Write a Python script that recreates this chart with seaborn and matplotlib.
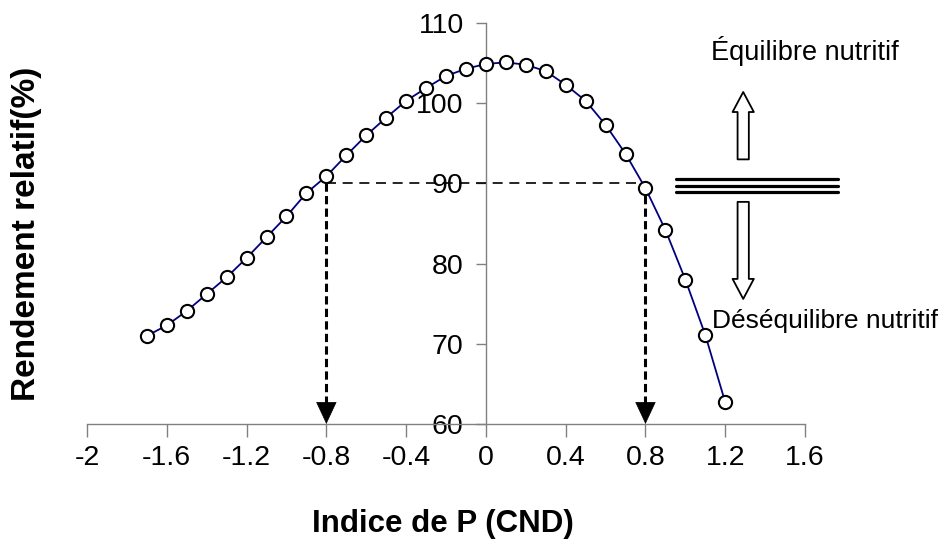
import matplotlib
matplotlib.use("Agg")
import matplotlib.pyplot as plt
import seaborn as sns
import pandas as pd

# indice de P (CND) and rendement relatif (%)
indice_p = [-1.7, -1.6, -1.5, -1.4, -1.3, -1.2, -1.1, -1.0, -0.9, -0.8,
            -0.7, -0.6, -0.5, -0.4, -0.3, -0.2, -0.1, 0.0, 0.1, 0.2,
            0.3, 0.4, 0.5, 0.6, 0.7, 0.8, 0.9, 1.0, 1.1, 1.2]
rendement = [71.0, 72.3, 74.1, 76.2, 78.3, 80.7, 83.3, 85.9, 88.8, 90.9,
             93.5, 96.0, 98.2, 100.3, 101.9, 103.4, 104.3, 104.9, 105.1, 104.8,
             104.0, 102.3, 100.3, 97.3, 93.7, 89.4, 84.2, 78.0, 71.1, 62.7]

x_ticks = [-2, -1.6, -1.2, -0.8, -0.4, 0, 0.4, 0.8, 1.2, 1.6]
x_tick_labels = ["-2", "-1.6", "-1.2", "-0.8", "-0.4", "0", "0.4", "0.8", "1.2", "1.6"]
y_ticks = [60, 70, 80, 90, 100, 110]

seuil = 90
indices_seuil = [-0.8, 0.8]

df = pd.DataFrame({"indice": indice_p, "rendement": rendement})

sns.set_style("white")
plt.rcParams["font.family"] = ["Liberation Sans", "DejaVu Sans"]
plt.rcParams["text.color"] = "black"

fig = plt.figure(figsize=(9.49, 5.46), dpi=100)
ax = fig.add_axes([0.0917, 0.2234, 0.7566, 0.7344])

sns.lineplot(data=df, x="indice", y="rendement", ax=ax, color="#000080",
             lw=1.3, marker="o", markersize=9.5, markerfacecolor="white",
             markeredgecolor="black", markeredgewidth=1.5, zorder=5)

ax.set_xlim(-2, 1.6)
ax.set_ylim(60, 110)

# axes crossing at (0, 60)
ax.spines["left"].set_position(("data", 0))
ax.spines["top"].set_visible(False)
ax.spines["right"].set_visible(False)
for s in ["left", "bottom"]:
    ax.spines[s].set_color("#808080")
    ax.spines[s].set_linewidth(1.0)

ax.set_xticks(x_ticks)
ax.set_xticklabels(x_tick_labels)
ax.set_yticks(y_ticks)
ax.tick_params(axis="x", direction="out", length=9, width=1, color="#808080",
               labelsize=20.5, pad=6, bottom=True, labelcolor="black")
ax.tick_params(axis="y", direction="out", length=7, width=1, color="#808080",
               labelsize=20.5, pad=9, left=True, labelcolor="black")
ax.set_xlabel("")
ax.set_ylabel("")
ax.grid(False)

# seuil de 90 %
ax.plot([indices_seuil[0], indices_seuil[1]], [seuil, seuil], color="black",
        lw=1.2, ls=(0, (6, 4)), zorder=3)
for xs in indices_seuil:
    ax.plot([xs, xs], [seuil, 62.5], color="black", lw=2.2, ls=(0, (2.7, 1.4)), zorder=3)
    ax.annotate("", xy=(xs, 60), xytext=(xs, 63.2),
                arrowprops=dict(arrowstyle="-|>,head_length=1.5,head_width=0.7",
                                color="black", lw=0.5, shrinkA=0, shrinkB=0),
                annotation_clip=False)

# symbole et fleches a droite
for yl in [90.5, 89.7, 88.9]:
    ax.plot([0.953, 1.765], [yl, yl], color="black", lw=2.3, clip_on=False,
            solid_capstyle="round")

fleche = "simple,head_length=0.8,head_width=0.85,tail_width=0.45"
ax.annotate("", xy=(1.29, 101.4), xytext=(1.29, 93.0),
            arrowprops=dict(arrowstyle=fleche, fc="white", ec="black", lw=1.3,
                            shrinkA=0, shrinkB=0, mutation_scale=18),
            annotation_clip=False)
ax.annotate("", xy=(1.29, 75.6), xytext=(1.29, 87.7),
            arrowprops=dict(arrowstyle=fleche, fc="white", ec="black", lw=1.3,
                            shrinkA=0, shrinkB=0, mutation_scale=18),
            annotation_clip=False)

ax.text(1.128, 105.4, "Équilibre nutritif", fontsize=19.5, ha="left",
        va="baseline", clip_on=False)
ax.text(1.135, 72.0, "Déséquilibre nutritif", fontsize=19, ha="left",
        va="baseline", clip_on=False)

fig.text(443 / 949, 1 - 524 / 546, "Indice de P (CND)", fontsize=22.5,
         fontweight="bold", ha="center", va="center")
fig.text(27 / 949, 1 - 234 / 546, "Rendement relatif(%)", fontsize=24,
         fontweight="bold", ha="center", va="center", rotation=90)

fig.savefig("out.png", dpi=100)
